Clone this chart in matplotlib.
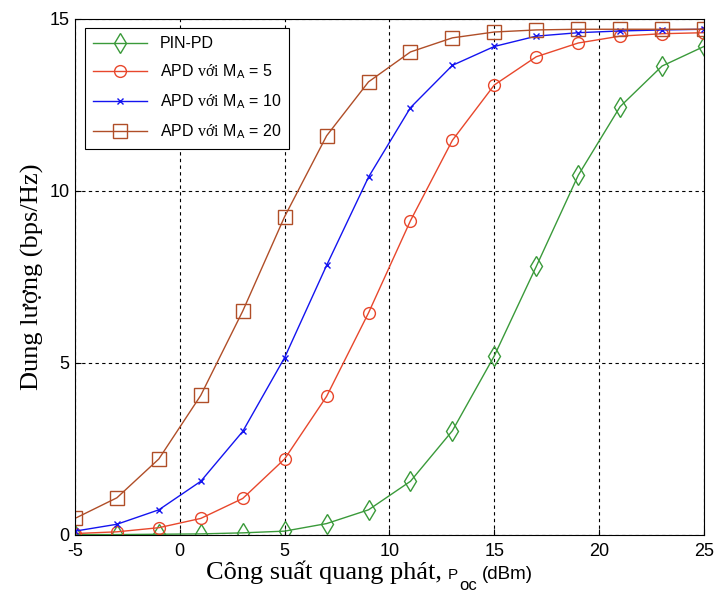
import matplotlib
matplotlib.use("Agg")
import matplotlib.pyplot as plt

plt.rcParams['font.family'] = ['Liberation Sans', 'DejaVu Sans']
plt.rcParams['axes.unicode_minus'] = False
plt.rcParams['mathtext.fontset'] = 'custom'
plt.rcParams['mathtext.rm'] = 'Liberation Serif'
plt.rcParams['mathtext.sf'] = 'Liberation Sans'
plt.rcParams['mathtext.it'] = 'Liberation Sans'

# Công suất phát (dBm) tại các điểm đánh dấu
p_dbm = [-5, -3, -1, 1, 3, 5, 7, 9, 11, 13, 15, 17, 19, 21, 23, 25]

# Dung lượng (bps/Hz)
c_pin = [0.0, 0.0, 0.01, 0.02, 0.05, 0.1, 0.32, 0.72, 1.55, 3.02, 5.2, 7.8, 10.45, 12.45, 13.63, 14.2]
c_apd5 = [0.03, 0.08, 0.2, 0.47, 1.05, 2.2, 4.02, 6.45, 9.13, 11.47, 13.08, 13.9, 14.3, 14.5, 14.57, 14.6]
c_apd10 = [0.1, 0.3, 0.72, 1.55, 3.0, 5.15, 7.83, 10.4, 12.42, 13.65, 14.2, 14.5, 14.6, 14.65, 14.68, 14.7]
c_apd20 = [0.47, 1.07, 2.2, 4.05, 6.5, 9.25, 11.6, 13.17, 14.04, 14.45, 14.62, 14.68, 14.7, 14.7, 14.7, 14.7]

W, H = 714, 592
fig = plt.figure(figsize=(W / 100, H / 100), dpi=100)
ax = fig.add_axes([0.105, 0.097, 0.881, 0.871])

ax.plot(p_dbm, c_pin, color='#3a9a3a', lw=1, marker='d', ms=10, mfc='none', mew=1,
        label='PIN-PD')
ax.plot(p_dbm, c_apd5, color='#e8472c', lw=1, marker='o', ms=8.5, mfc='none', mew=1,
        label=r'APD $\mathrm{với}$ M$_\mathsf{A}$ = 5')
ax.plot(p_dbm, c_apd10, color='#1414f0', lw=1, marker='x', ms=5, mew=1,
        label=r'APD $\mathrm{với}$ M$_\mathsf{A}$ = 10')
ax.plot(p_dbm, c_apd20, color='#b04e28', lw=1, marker='s', ms=9.5, mfc='none', mew=1,
        label=r'APD $\mathrm{với}$ M$_\mathsf{A}$ = 20')

ax.set_xlim(-5, 25)
ax.set_ylim(0, 15)
ax.set_xticks([-5, 0, 5, 10, 15, 20, 25])
ax.set_yticks([0, 5, 10, 15])
ax.tick_params(direction='in', labelsize=13, length=4)
ax.tick_params(axis='x', pad=6)
ax.tick_params(axis='y', pad=4)
ax.grid(True, color='black', linestyle=(0, (3, 3)), linewidth=0.8)

leg = ax.legend(loc='upper left', bbox_to_anchor=(0.003, 0.997), fontsize=11.5,
                fancybox=False, edgecolor='black', framealpha=1,
                handlelength=3.4, labelspacing=0.7, borderpad=0.5)
leg.get_frame().set_linewidth(0.8)

ax.set_ylabel('Dung lượng (bps/Hz)', family='Liberation Serif', fontsize=19, labelpad=4)

# nhãn trục x: chữ có chân + "P_oc (dBm)" ghép từng mảnh trên cùng đường cơ sở
base_px = 13
fig.canvas.draw()
rend = fig.canvas.get_renderer()
t_main = fig.text(324 / W, base_px / H, 'Công suất quang phát,', family='Liberation Serif',
                  fontsize=19, va='baseline', ha='center')
x_px = t_main.get_window_extent(rend).x1 + 6
t_p = fig.text(x_px / W, base_px / H, 'P', fontsize=11, va='baseline', ha='left')
x_px = t_p.get_window_extent(rend).x1 + 1
t_oc = fig.text(x_px / W, (base_px - 11) / H, 'oc', fontsize=12, va='baseline', ha='left')
x_px = t_oc.get_window_extent(rend).x1 + 5
fig.text(x_px / W, base_px / H, '(dBm)', fontsize=13.5, va='baseline', ha='left')

fig.savefig('out.png', dpi=100)
